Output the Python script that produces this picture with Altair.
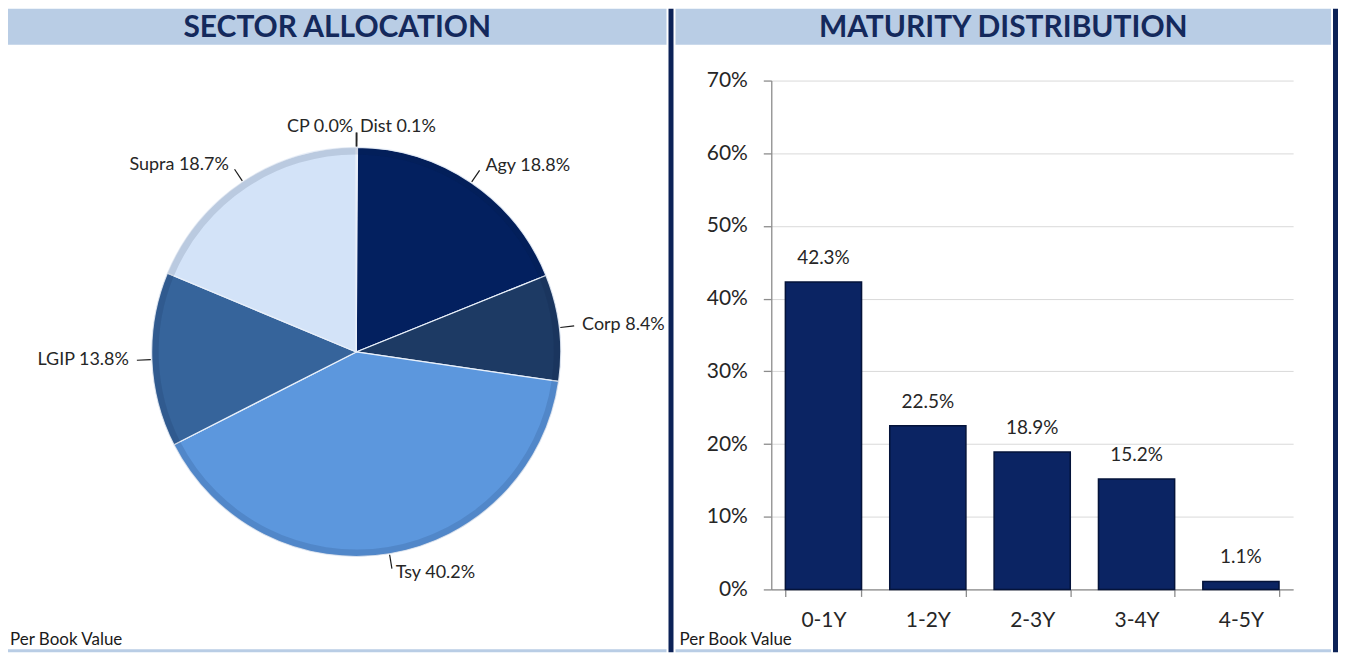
import altair as alt
import pandas as pd

# ---------------- data ----------------
sectors = ["Dist", "Agy", "Corp", "Tsy", "LGIP", "Supra", "CP"]
sector_pct = [0.1, 18.8, 8.4, 40.2, 13.8, 18.7, 0.0]
sector_colors = ["#8eb4e3", "#03205f", "#1d3a64", "#5c97dd", "#36649b", "#d3e3f8", "#c6d9f1"]

buckets = ["0-1Y", "1-2Y", "2-3Y", "3-4Y", "4-5Y"]
bucket_pct = [42.3, 22.5, 18.9, 15.2, 1.1]
y_ticks = [0, 10, 20, 30, 40, 50, 60, 70]

left_title = "SECTOR ALLOCATION"
right_title = "MATURITY DISTRIBUTION"
footnote = "Per Book Value"

# ---------------- style / layout ----------------
FONT = "Lato"
TITLE_COLOR = "#14295c"
HEADER_BG = "#b9cde5"
NAVY_LINE = "#0c2257"
TEXT = "#262626"
BAR_FILL = "#0b2463"

R = 205            # pie radius (px)
LW, PH = 660, 510  # left panel width, panel height
RW = 523           # bar plot width
CX, CY = 349, 272  # pie centre inside left view

pie_df = pd.DataFrame({"sector": sectors, "pct": sector_pct, "idx": list(range(len(sectors)))})
bar_df = pd.DataFrame({"bucket": buckets, "pct": [v / 100 for v in bucket_pct]})
one = pd.DataFrame({"k": [0]})

xs = alt.Scale(domain=[-CX, LW - CX], nice=False, zero=False)
ys = alt.Scale(domain=[-(PH - CY), CY], nice=False, zero=False)

pie_base = (
    alt.Chart(pie_df)
    .transform_joinaggregate(total="sum(pct)")
    .transform_window(cum="sum(pct)", sort=[alt.SortField("idx")], frame=[None, 0])
    .transform_calculate(
        t0="(datum.cum - datum.pct) / datum.total * 2 * PI",
        t1="datum.cum / datum.total * 2 * PI",
        tm="(datum.cum - datum.pct / 2) / datum.total * 2 * PI",
        label="datum.sector + ' ' + format(datum.pct / 100, '.1%')",
    )
    .transform_calculate(
        lx0=f"{R + 1} * sin(datum.tm)",
        ly0=f"{R + 1} * cos(datum.tm)",
        lx1=f"{R + 15} * sin(datum.tm)",
        ly1=f"{R + 15} * cos(datum.tm)",
        tx=f"{R + 20} * sin(datum.tm)",
        ty=f"{R + 20} * cos(datum.tm)",
    )
)

arcs = pie_base.mark_arc(radius=R, stroke="#e9f0fa", strokeWidth=1.2).encode(
    theta=alt.Theta("t0:Q", scale=None, stack=None),
    theta2="t1:Q",
    color=alt.Color("sector:N", scale=alt.Scale(domain=sectors, range=sector_colors), legend=None),
    x=alt.value(CX),
    y=alt.value(CY),
)

rim = pie_base.mark_arc(radius=R, radius2=R - 7, fill="#0a1a3a", fillOpacity=0.12).encode(
    theta=alt.Theta("t0:Q", scale=None, stack=None),
    theta2="t1:Q",
    x=alt.value(CX),
    y=alt.value(CY),
)

leaders = pie_base.mark_rule(color="#1a1a1a", strokeWidth=1.2).encode(
    x=alt.X("lx0:Q", scale=xs, axis=None),
    y=alt.Y("ly0:Q", scale=ys, axis=None),
    x2="lx1:Q",
    y2="ly1:Q",
)

lab_enc = dict(
    x=alt.X("tx:Q", scale=xs, axis=None),
    y=alt.Y("ty:Q", scale=ys, axis=None),
    text="label:N",
)
labels_r = pie_base.transform_filter("sin(datum.tm) >= 0").mark_text(
    align="left", baseline="middle", dx=3, font=FONT, fontSize=18, color=TEXT
).encode(**lab_enc)
labels_l = pie_base.transform_filter("sin(datum.tm) < 0").mark_text(
    align="right", baseline="middle", dx=-3, font=FONT, fontSize=18, color=TEXT
).encode(**lab_enc)

HEAD_Y0, HEAD_Y1 = -72, -36
BOTTOM = 573

left_header = alt.Chart(one).mark_rect(color=HEADER_BG).encode(
    x=alt.value(0), x2=alt.value(LW), y=alt.value(HEAD_Y0), y2=alt.value(HEAD_Y1)
)
left_title_t = alt.Chart(one).mark_text(
    text=left_title, font=FONT, fontSize=30, fontWeight="bold", color=TITLE_COLOR,
    align="center", baseline="middle"
).encode(x=alt.value(LW / 2), y=alt.value((HEAD_Y0 + HEAD_Y1) / 2 + 1))
left_foot = alt.Chart(one).mark_text(
    text=footnote, font=FONT, fontSize=17, color="#1a1a1a", align="left", baseline="bottom"
).encode(x=alt.value(2), y=alt.value(BOTTOM - 3))
left_strip = alt.Chart(one).mark_rect(color=HEADER_BG).encode(
    x=alt.value(0), x2=alt.value(LW), y=alt.value(BOTTOM - 3), y2=alt.value(BOTTOM)
)

left = alt.layer(
    left_header, left_title_t, arcs, rim, leaders, labels_r, labels_l, left_foot, left_strip
).properties(width=LW, height=PH)

# ---------------- right panel ----------------
bars = alt.Chart(bar_df).mark_bar(color=BAR_FILL, stroke="#04133a", strokeWidth=1.5).encode(
    x=alt.X(
        "bucket:N", sort=buckets,
        scale=alt.Scale(paddingInner=0.27, paddingOuter=0.135),
        axis=alt.Axis(
            title=None, labelAngle=0, tickBand="extent", labelFont=FONT, labelFontSize=21,
            labelColor=TEXT, domainColor="#8c8c8c", tickColor="#8c8c8c", tickSize=7,
            labelPadding=13, domainWidth=1.3, tickWidth=1.3,
        ),
    ),
    y=alt.Y(
        "pct:Q",
        scale=alt.Scale(domain=[0, 0.7], nice=False),
        axis=alt.Axis(
            title=None, values=[t / 100 for t in y_ticks], format=".0%", labelFont=FONT,
            labelFontSize=21, labelColor=TEXT, domainColor="#8c8c8c", tickColor="#8c8c8c",
            tickSize=8, labelPadding=16, gridColor="#d9d9d9", gridWidth=1, domainWidth=1.3,
            tickWidth=1.3,
        ),
    ),
)
bar_labels = alt.Chart(bar_df).mark_text(
    font=FONT, fontSize=19, color=TEXT, baseline="alphabetic", dy=-18
).encode(
    x=alt.X("bucket:N", sort=buckets),
    y=alt.Y("pct:Q"),
    text=alt.Text("pct:Q", format=".1%"),
)

RX0 = 677 - 773
RX1 = 1334 - 773
right_header = alt.Chart(one).mark_rect(color=HEADER_BG).encode(
    x=alt.value(RX0), x2=alt.value(RX1), y=alt.value(HEAD_Y0), y2=alt.value(HEAD_Y1)
)
right_title_t = alt.Chart(one).mark_text(
    text=right_title, font=FONT, fontSize=30, fontWeight="bold", color=TITLE_COLOR,
    align="center", baseline="middle"
).encode(x=alt.value((RX0 + RX1) / 2), y=alt.value((HEAD_Y0 + HEAD_Y1) / 2 + 1))
divider = alt.Chart(one).mark_rect(color=NAVY_LINE).encode(
    x=alt.value(670 - 773), x2=alt.value(675 - 773), y=alt.value(HEAD_Y0), y2=alt.value(BOTTOM)
)
right_edge = alt.Chart(one).mark_rect(color=NAVY_LINE).encode(
    x=alt.value(1336 - 773), x2=alt.value(1341 - 773), y=alt.value(HEAD_Y0), y2=alt.value(BOTTOM)
)
right_foot = alt.Chart(one).mark_text(
    text=footnote, font=FONT, fontSize=17, color="#1a1a1a", align="left", baseline="bottom"
).encode(x=alt.value(681 - 773), y=alt.value(BOTTOM - 3))
right_strip = alt.Chart(one).mark_rect(color=HEADER_BG).encode(
    x=alt.value(RX0), x2=alt.value(RX1), y=alt.value(BOTTOM - 3), y2=alt.value(BOTTOM)
)

right = alt.layer(
    right_header, right_title_t, bars, bar_labels, divider, right_edge, right_foot, right_strip
).properties(width=RW, height=PH)

chart = (
    alt.hconcat(left, right, spacing=773 - 8 - LW, bounds="flush")
    .properties(padding=0)
    .configure(font=FONT, background="white")
    .configure_view(strokeWidth=0, stroke="transparent")
)

chart.save("out.html", embed_options={"renderer": "svg", "actions": False})
